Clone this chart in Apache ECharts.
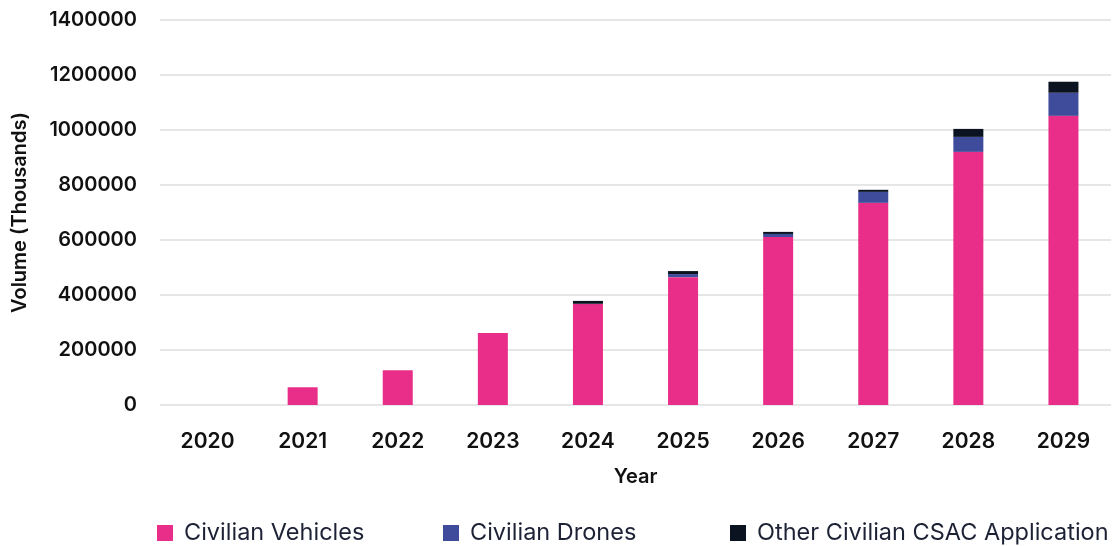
<!DOCTYPE html>
<html>
<head>
<meta charset="utf-8">
<script src="https://cdn.jsdelivr.net/npm/echarts@6/dist/echarts.min.js"></script>
<style>
html,body{margin:0;padding:0;background:#fff;}
#chart{width:1118px;height:546px;}
</style>
</head>
<body>
<div id="chart"></div>
<script>
const years = ['2020','2021','2022','2023','2024','2025','2026','2027','2028','2029'];
const civilianVehicles = [0, 64500, 126500, 261500, 367000, 465000, 611000, 735000, 920500, 1051500];
const civilianDrones = [0, 0, 0, 0, 1000, 11000, 11000, 40000, 54500, 84000];
const otherCivilian = [0, 0, 0, 0, 10500, 11000, 7500, 7500, 29000, 40000];
const seriesNames = ['Civilian Vehicles', 'Civilian Drones', 'Other Civilian CSAC Application'];
const yTicks = {min: 0, max: 1400000, interval: 200000};

const font = 'Inter, "Noto Sans", sans-serif';
const legendLefts = [152, 438, 725];
const legends = seriesNames.map((n, i) => ({
  left: legendLefts[i], top: 516,
  icon: 'rect', itemWidth: 16, itemHeight: 16,
  textStyle: {fontSize: 23.5, color: '#1d2135', fontFamily: font, padding: [0, 0, 0, 6]},
  data: [n]
}));
const chart = echarts.init(document.getElementById('chart'));
chart.setOption({
  animation: false,
  textStyle: {fontFamily: font},
  grid: {left: 160, right: 7, top: 20, bottom: 141},
  legend: legends,
  xAxis: {
    type: 'category', data: years,
    name: 'Year', nameLocation: 'middle', nameGap: 62,
    nameTextStyle: {fontSize: 20, fontWeight: 600, color: '#111'},
    axisLine: {show: false}, axisTick: {show: false},
    axisLabel: {fontSize: 21, fontWeight: 600, color: '#111', margin: 26}
  },
  yAxis: {
    type: 'value', min: yTicks.min, max: yTicks.max, interval: yTicks.interval,
    name: 'Volume (Thousands)', nameLocation: 'middle', nameGap: 130, nameRotate: 90,
    nameTextStyle: {fontSize: 20, fontWeight: 600, color: '#111'},
    axisLabel: {fontSize: 20, fontWeight: 600, color: '#111', margin: 23, formatter: v => String(v)},
    splitLine: {lineStyle: {color: '#e6e6e6', width: 2}}
  },
  series: [
    {name: seriesNames[0], type: 'bar', stack: 't', data: civilianVehicles, barWidth: 30, itemStyle: {color: '#E92E89'}},
    {name: seriesNames[1], type: 'bar', stack: 't', data: civilianDrones, barWidth: 30, itemStyle: {color: '#3F4C9C'}},
    {name: seriesNames[2], type: 'bar', stack: 't', data: otherCivilian, barWidth: 30, itemStyle: {color: '#0B1220'}}
  ]
});
</script>
</body>
</html>
